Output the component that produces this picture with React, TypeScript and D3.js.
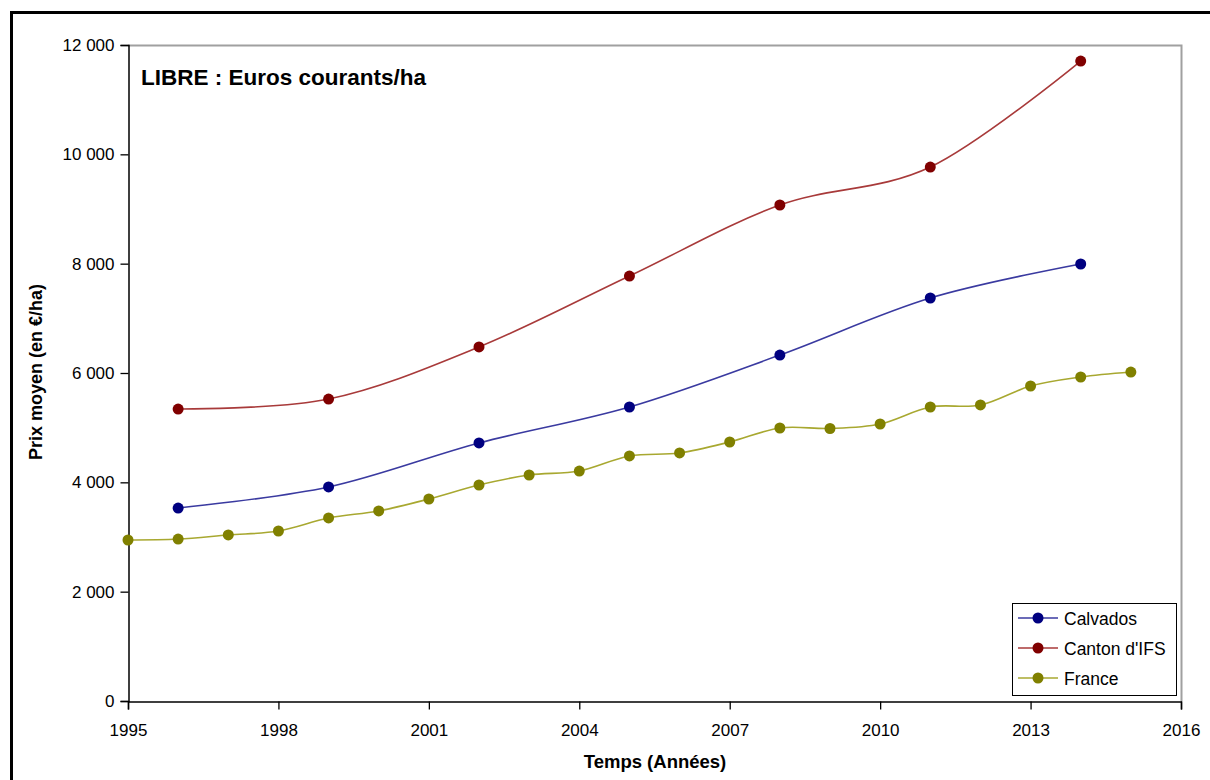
import React, { useEffect, useRef } from "react";
import * as d3 from "d3";

const calvadosYears = [1996, 1999, 2002, 2005, 2008, 2011, 2014];
const calvadosValues = [3530, 3915, 4720, 5378, 6329, 7372, 7994];

const cantonYears = [1996, 1999, 2002, 2005, 2008, 2011, 2014];
const cantonValues = [5341, 5524, 6476, 7774, 9073, 9768, 11707];

const franceYears = [1995, 1996, 1997, 1998, 1999, 2000, 2001, 2002, 2003, 2004, 2005, 2006, 2007, 2008, 2009, 2010, 2011, 2012, 2013, 2014, 2015];
const franceValues = [2945, 2963, 3037, 3110, 3348, 3476, 3695, 3951, 4134, 4207, 4482, 4537, 4738, 4994, 4985, 5067, 5378, 5415, 5762, 5927, 6018];

const xTicks = [1995, 1998, 2001, 2004, 2007, 2010, 2013, 2016];
const yTicks = [0, 2000, 4000, 6000, 8000, 10000, 12000];

const seriesNames = ["Calvados", "Canton d'IFS", "France"];
const seriesColors = ["#000080", "#800000", "#808000"];
const lineColors = ["#3a3aa0", "#a83a3a", "#a8a830"];

const W = 1210;
const H = 780;
const FONT = "'Liberation Sans', Arial, sans-serif";

export default function App() {
  const ref = useRef<SVGSVGElement | null>(null);

  useEffect(() => {
    const svg = d3.select(ref.current);
    svg.selectAll("*").remove();

    const left = 128, right = 1181, top = 45, bottom = 701;
    const x = d3.scaleLinear().domain([1995, 2016]).range([left, right]);
    const y = d3.scaleLinear().domain([0, 12000]).range([bottom, top]);

    svg.append("rect").attr("width", W).attr("height", H).attr("fill", "#fff");
    // outer frame
    svg.append("rect")
      .attr("x", 11.5).attr("y", 12.5).attr("width", 1400).attr("height", 1000)
      .attr("fill", "none").attr("stroke", "#000").attr("stroke-width", 3);

    // plot area border (gray top/right)
    svg.append("path")
      .attr("d", `M${left},${top + 0.5}H${right + 0.5}V${bottom}`)
      .attr("fill", "none").attr("stroke", "#a0a0a0").attr("stroke-width", 2);

    // axes
    const yAxis = d3.axisLeft(y).tickValues(yTicks).tickSize(8).tickPadding(6)
      .tickFormat((d) => d3.format(",")(d as number).replace(/,/g, "\u00a0"));
    const gy = svg.append("g").attr("transform", `translate(${left + 0.5},0)`).call(yAxis);
    gy.select(".domain").attr("stroke", "#000").attr("stroke-width", 1.5);
    gy.selectAll(".tick line").attr("stroke", "#000").attr("stroke-width", 1.3);
    gy.selectAll(".tick text").attr("font-family", FONT).attr("font-size", 17).attr("fill", "#000");

    const xAxis = d3.axisBottom(x).tickValues(xTicks).tickSize(8).tickPadding(14)
      .tickFormat((d) => String(d));
    const gx = svg.append("g").attr("transform", `translate(0,${bottom + 0.5})`).call(xAxis);
    gx.select(".domain").attr("stroke", "#000").attr("stroke-width", 1.5);
    gx.selectAll(".tick line").attr("stroke", "#000").attr("stroke-width", 1.3);
    gx.selectAll(".tick text").attr("font-family", FONT).attr("font-size", 17).attr("fill", "#000");

    // axis titles
    svg.append("text").attr("x", 655).attr("y", 768).attr("text-anchor", "middle")
      .attr("font-family", FONT).attr("font-size", 18.5).attr("font-weight", "bold").text("Temps (Années)");
    svg.append("text").attr("transform", "translate(42,372) rotate(-90)").attr("text-anchor", "middle")
      .attr("font-family", FONT).attr("font-size", 18).attr("font-weight", "bold").text("Prix moyen (en €/ha)");

    // chart title
    svg.append("text").attr("x", 141).attr("y", 85)
      .attr("font-family", FONT).attr("font-size", 22.5).attr("font-weight", "bold").text("LIBRE : Euros courants/ha");

    const series = [
      { years: calvadosYears, values: calvadosValues },
      { years: cantonYears, values: cantonValues },
      { years: franceYears, values: franceValues },
    ];

    const line = d3.line<[number, number]>()
      .x((d) => x(d[0])).y((d) => y(d[1]))
      .curve(d3.curveCatmullRom.alpha(0));

    series.forEach((s, i) => {
      const pts: [number, number][] = s.years.map((yr, j) => [yr, s.values[j]]);
      svg.append("path").attr("d", line(pts)!).attr("fill", "none")
        .attr("stroke", lineColors[i]).attr("stroke-width", 1.6);
      svg.append("g").selectAll("circle").data(pts).join("circle")
        .attr("cx", (d) => x(d[0])).attr("cy", (d) => y(d[1])).attr("r", 5.5)
        .attr("fill", seriesColors[i]);
    });

    // legend
    const lg = svg.append("g");
    lg.append("rect").attr("x", 1012.5).attr("y", 603.5).attr("width", 164).attr("height", 92)
      .attr("fill", "#fff").attr("stroke", "#000").attr("stroke-width", 1);
    seriesNames.forEach((name, i) => {
      const cy = 618 + i * 30;
      lg.append("line").attr("x1", 1018).attr("x2", 1058).attr("y1", cy).attr("y2", cy)
        .attr("stroke", lineColors[i]).attr("stroke-width", 1.6);
      lg.append("circle").attr("cx", 1038).attr("cy", cy).attr("r", 5.5).attr("fill", seriesColors[i]);
      lg.append("text").attr("x", 1064).attr("y", cy + 6.5)
        .attr("font-family", FONT).attr("font-size", 17.5).text(name);
    });
  }, []);

  return (
    <svg ref={ref} width={W} height={H}
      style={{ position: "fixed", left: 0, top: 0, display: "block" }} />
  );
}
